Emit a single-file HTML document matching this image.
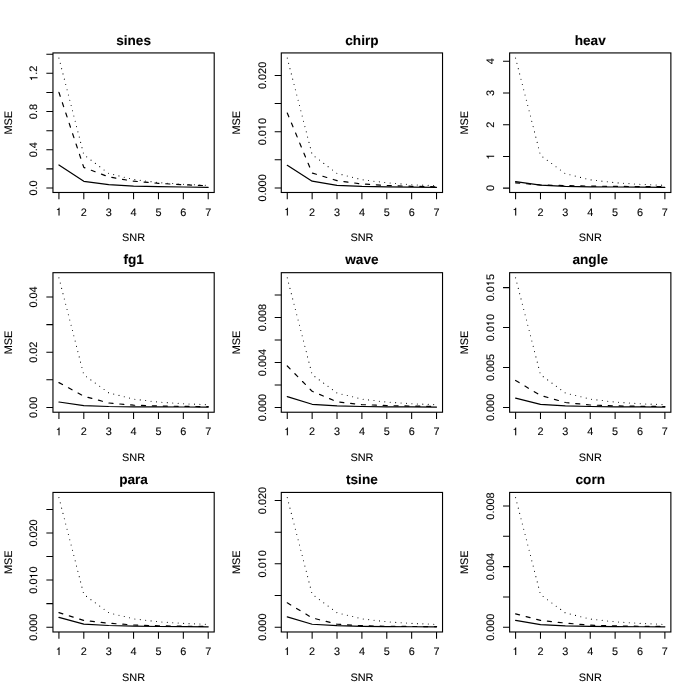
<!DOCTYPE html>
<html><head><meta charset="utf-8"><title>MSE vs SNR</title>
<style>
html,body{margin:0;padding:0;background:#fff;}
body{width:685px;height:685px;overflow:hidden;}
svg{display:block;will-change:transform;filter:grayscale(1);}
text{font-family:"Liberation Sans",sans-serif;fill:#000;text-rendering:geometricPrecision;stroke:#000;stroke-width:0.1px;}
.a{font-size:10.9px;}
.t{font-size:13.6px;font-weight:bold;}
.h{fill:none;stroke:none;}
.g{fill:#000;stroke:#000;stroke-width:0.006;}
.l{stroke:#000;fill:none;}
rect.l{stroke-width:1.12;}
</style></head><body>
<svg width="685" height="685" viewBox="0 0 685 685">
<rect width="685" height="685" fill="#fff"/>

<g>
<text class="t" x="133.58" y="44.73" text-anchor="middle">sines</text>
<rect class="l" x="52.96" y="52.93" width="161.24" height="139.55"/>
<g transform="translate(58.93 215.58)"><text class="a" x="-3.03"><tspan class="h">1</tspan></text><path class="g" transform="translate(-3.03 0) scale(10.9 -10.9)" d="M.092 .503V.567C.178 .567 .246 .61 .265 .709H.334V0H.24V.503Z"/></g>
<g transform="translate(83.81 215.58)"><text class="a" x="-3.03">2</text></g>
<g transform="translate(108.69 215.58)"><text class="a" x="-3.03">3</text></g>
<g transform="translate(133.57 215.58)"><text class="a" x="-3.03">4</text></g>
<g transform="translate(158.45 215.58)"><text class="a" x="-3.03">5</text></g>
<g transform="translate(183.33 215.58)"><text class="a" x="-3.03">6</text></g>
<g transform="translate(208.21 215.58)"><text class="a" x="-3.03">7</text></g>
<g transform="translate(37.46 188) rotate(-90)"><text class="a" x="-7.58">0.0</text></g>
<g transform="translate(37.46 149.78) rotate(-90)"><text class="a" x="-7.58">0.4</text></g>
<g transform="translate(37.46 111.56) rotate(-90)"><text class="a" x="-7.58">0.8</text></g>
<g transform="translate(37.46 73.34) rotate(-90)"><text class="a" x="-7.58"><tspan class="h">1</tspan>.2</text><path class="g" transform="translate(-7.58 0) scale(10.9 -10.9)" d="M.092 .503V.567C.178 .567 .246 .61 .265 .709H.334V0H.24V.503Z"/></g>
<path class="l" stroke-width="1.05" d="M58.93 192.48V199.28M83.81 192.48V199.28M108.69 192.48V199.28M133.57 192.48V199.28M158.45 192.48V199.28M183.33 192.48V199.28M208.21 192.48V199.28M52.96 188H46.36M52.96 168.89H46.36M52.96 149.78H46.36M52.96 130.67H46.36M52.96 111.56H46.36M52.96 92.45H46.36M52.96 73.34H46.36M52.96 54.23H46.36"/>
<text class="a" x="133.58" y="241.38" text-anchor="middle">SNR</text>
<text class="a" transform="translate(11.56 122.71) rotate(-90)" text-anchor="middle">MSE</text>
<polyline class="l" stroke-linejoin="round" stroke-linecap="round" stroke-dasharray="0 5.44" stroke-width="1.1" points="58.93,58.1 83.81,154.7 108.69,173.4 133.57,179.5 158.45,182.6 183.33,184.3 208.21,185.3"/>
<polyline class="l" stroke-linejoin="round" stroke-linecap="round" stroke-dasharray="4.08 6.8" stroke-width="1.2" points="58.93,92.4 83.81,167.4 108.69,176.9 133.57,181.2 158.45,183.3 183.33,184.8 208.21,185.7"/>
<polyline class="l" stroke-linejoin="round" stroke-linecap="round" stroke-width="1.2" points="58.93,165 83.81,181.3 108.69,184.7 133.57,186.2 158.45,186.7 183.33,187 208.21,187.3"/>
</g>
<g>
<text class="t" x="361.91" y="44.73" text-anchor="middle">chirp</text>
<rect class="l" x="281.29" y="52.93" width="161.24" height="139.55"/>
<g transform="translate(287.26 215.58)"><text class="a" x="-3.03"><tspan class="h">1</tspan></text><path class="g" transform="translate(-3.03 0) scale(10.9 -10.9)" d="M.092 .503V.567C.178 .567 .246 .61 .265 .709H.334V0H.24V.503Z"/></g>
<g transform="translate(312.14 215.58)"><text class="a" x="-3.03">2</text></g>
<g transform="translate(337.02 215.58)"><text class="a" x="-3.03">3</text></g>
<g transform="translate(361.9 215.58)"><text class="a" x="-3.03">4</text></g>
<g transform="translate(386.78 215.58)"><text class="a" x="-3.03">5</text></g>
<g transform="translate(411.66 215.58)"><text class="a" x="-3.03">6</text></g>
<g transform="translate(436.54 215.58)"><text class="a" x="-3.03">7</text></g>
<g transform="translate(265.79 187.9) rotate(-90)"><text class="a" x="-13.64">0.000</text></g>
<g transform="translate(265.79 131.66) rotate(-90)"><text class="a" x="-13.64">0.0<tspan class="h">1</tspan>0</text><path class="g" transform="translate(1.52 0) scale(10.9 -10.9)" d="M.092 .503V.567C.178 .567 .246 .61 .265 .709H.334V0H.24V.503Z"/></g>
<g transform="translate(265.79 75.42) rotate(-90)"><text class="a" x="-13.64">0.020</text></g>
<path class="l" stroke-width="1.05" d="M287.26 192.48V199.28M312.14 192.48V199.28M337.02 192.48V199.28M361.9 192.48V199.28M386.78 192.48V199.28M411.66 192.48V199.28M436.54 192.48V199.28M281.29 187.9H274.69M281.29 159.78H274.69M281.29 131.66H274.69M281.29 103.54H274.69M281.29 75.42H274.69"/>
<text class="a" x="361.91" y="241.38" text-anchor="middle">SNR</text>
<text class="a" transform="translate(239.89 122.71) rotate(-90)" text-anchor="middle">MSE</text>
<polyline class="l" stroke-linejoin="round" stroke-linecap="round" stroke-dasharray="0 5.44" stroke-width="1.1" points="287.26,58.1 312.14,154.6 337.02,173.4 361.9,179.7 386.78,182.8 411.66,184.7 436.54,185.7"/>
<polyline class="l" stroke-linejoin="round" stroke-linecap="round" stroke-dasharray="4.08 6.8" stroke-width="1.2" points="287.26,113 312.14,173 337.02,180.6 361.9,184 386.78,185.5 411.66,186.3 436.54,186.8"/>
<polyline class="l" stroke-linejoin="round" stroke-linecap="round" stroke-width="1.2" points="287.26,165.3 312.14,181.2 337.02,185.3 361.9,186.4 386.78,186.9 411.66,187.1 436.54,187.3"/>
</g>
<g>
<text class="t" x="590.25" y="44.73" text-anchor="middle">heav</text>
<rect class="l" x="509.63" y="52.93" width="161.24" height="139.55"/>
<g transform="translate(515.6 215.58)"><text class="a" x="-3.03"><tspan class="h">1</tspan></text><path class="g" transform="translate(-3.03 0) scale(10.9 -10.9)" d="M.092 .503V.567C.178 .567 .246 .61 .265 .709H.334V0H.24V.503Z"/></g>
<g transform="translate(540.48 215.58)"><text class="a" x="-3.03">2</text></g>
<g transform="translate(565.36 215.58)"><text class="a" x="-3.03">3</text></g>
<g transform="translate(590.24 215.58)"><text class="a" x="-3.03">4</text></g>
<g transform="translate(615.12 215.58)"><text class="a" x="-3.03">5</text></g>
<g transform="translate(640 215.58)"><text class="a" x="-3.03">6</text></g>
<g transform="translate(664.88 215.58)"><text class="a" x="-3.03">7</text></g>
<g transform="translate(494.13 188.1) rotate(-90)"><text class="a" x="-3.03">0</text></g>
<g transform="translate(494.13 156.4) rotate(-90)"><text class="a" x="-3.03"><tspan class="h">1</tspan></text><path class="g" transform="translate(-3.03 0) scale(10.9 -10.9)" d="M.092 .503V.567C.178 .567 .246 .61 .265 .709H.334V0H.24V.503Z"/></g>
<g transform="translate(494.13 124.7) rotate(-90)"><text class="a" x="-3.03">2</text></g>
<g transform="translate(494.13 93) rotate(-90)"><text class="a" x="-3.03">3</text></g>
<g transform="translate(494.13 61.3) rotate(-90)"><text class="a" x="-3.03">4</text></g>
<path class="l" stroke-width="1.05" d="M515.6 192.48V199.28M540.48 192.48V199.28M565.36 192.48V199.28M590.24 192.48V199.28M615.12 192.48V199.28M640 192.48V199.28M664.88 192.48V199.28M509.63 188.1H503.03M509.63 156.4H503.03M509.63 124.7H503.03M509.63 93H503.03M509.63 61.3H503.03"/>
<text class="a" x="590.25" y="241.38" text-anchor="middle">SNR</text>
<text class="a" transform="translate(468.23 122.71) rotate(-90)" text-anchor="middle">MSE</text>
<polyline class="l" stroke-linejoin="round" stroke-linecap="round" stroke-dasharray="0 5.44" stroke-width="1.1" points="515.6,58.1 540.48,155.3 565.36,173.7 590.24,179.8 615.12,182.7 640,184.3 664.88,185.3"/>
<polyline class="l" stroke-linejoin="round" stroke-linecap="round" stroke-dasharray="4.08 6.8" stroke-width="1.2" points="515.6,182.8 540.48,185 565.36,185.6 590.24,186.1 615.12,186.4 640,186.6 664.88,186.7"/>
<polyline class="l" stroke-linejoin="round" stroke-linecap="round" stroke-width="1.2" points="515.6,181.7 540.48,185.1 565.36,186.3 590.24,186.8 615.12,187 640,187.2 664.88,187.3"/>
</g>
<g>
<text class="t" x="133.58" y="264.48" text-anchor="middle">fg1</text>
<rect class="l" x="52.96" y="272.68" width="161.24" height="139.55"/>
<g transform="translate(58.93 435.33)"><text class="a" x="-3.03"><tspan class="h">1</tspan></text><path class="g" transform="translate(-3.03 0) scale(10.9 -10.9)" d="M.092 .503V.567C.178 .567 .246 .61 .265 .709H.334V0H.24V.503Z"/></g>
<g transform="translate(83.81 435.33)"><text class="a" x="-3.03">2</text></g>
<g transform="translate(108.69 435.33)"><text class="a" x="-3.03">3</text></g>
<g transform="translate(133.57 435.33)"><text class="a" x="-3.03">4</text></g>
<g transform="translate(158.45 435.33)"><text class="a" x="-3.03">5</text></g>
<g transform="translate(183.33 435.33)"><text class="a" x="-3.03">6</text></g>
<g transform="translate(208.21 435.33)"><text class="a" x="-3.03">7</text></g>
<g transform="translate(37.46 407.4) rotate(-90)"><text class="a" x="-10.61">0.00</text></g>
<g transform="translate(37.46 352.2) rotate(-90)"><text class="a" x="-10.61">0.02</text></g>
<g transform="translate(37.46 297) rotate(-90)"><text class="a" x="-10.61">0.04</text></g>
<path class="l" stroke-width="1.05" d="M58.93 412.23V419.03M83.81 412.23V419.03M108.69 412.23V419.03M133.57 412.23V419.03M158.45 412.23V419.03M183.33 412.23V419.03M208.21 412.23V419.03M52.96 407.4H46.36M52.96 379.8H46.36M52.96 352.2H46.36M52.96 324.6H46.36M52.96 297H46.36"/>
<text class="a" x="133.58" y="461.13" text-anchor="middle">SNR</text>
<text class="a" transform="translate(11.56 342.46) rotate(-90)" text-anchor="middle">MSE</text>
<polyline class="l" stroke-linejoin="round" stroke-linecap="round" stroke-dasharray="0 5.44" stroke-width="1.1" points="58.93,277.85 83.81,374.8 108.69,392.8 133.57,399.1 158.45,402.1 183.33,403.7 208.21,404.7"/>
<polyline class="l" stroke-linejoin="round" stroke-linecap="round" stroke-dasharray="4.08 6.8" stroke-width="1.2" points="58.93,382.6 83.81,396.2 108.69,403 133.57,405.2 158.45,406 183.33,406.4 208.21,406.6"/>
<polyline class="l" stroke-linejoin="round" stroke-linecap="round" stroke-width="1.2" points="58.93,402 83.81,405.6 108.69,406.5 133.57,406.8 158.45,406.9 183.33,407 208.21,407.05"/>
</g>
<g>
<text class="t" x="361.91" y="264.48" text-anchor="middle">wave</text>
<rect class="l" x="281.29" y="272.68" width="161.24" height="139.55"/>
<g transform="translate(287.26 435.33)"><text class="a" x="-3.03"><tspan class="h">1</tspan></text><path class="g" transform="translate(-3.03 0) scale(10.9 -10.9)" d="M.092 .503V.567C.178 .567 .246 .61 .265 .709H.334V0H.24V.503Z"/></g>
<g transform="translate(312.14 435.33)"><text class="a" x="-3.03">2</text></g>
<g transform="translate(337.02 435.33)"><text class="a" x="-3.03">3</text></g>
<g transform="translate(361.9 435.33)"><text class="a" x="-3.03">4</text></g>
<g transform="translate(386.78 435.33)"><text class="a" x="-3.03">5</text></g>
<g transform="translate(411.66 435.33)"><text class="a" x="-3.03">6</text></g>
<g transform="translate(436.54 435.33)"><text class="a" x="-3.03">7</text></g>
<g transform="translate(265.79 407.5) rotate(-90)"><text class="a" x="-13.64">0.000</text></g>
<g transform="translate(265.79 362.5) rotate(-90)"><text class="a" x="-13.64">0.004</text></g>
<g transform="translate(265.79 317.5) rotate(-90)"><text class="a" x="-13.64">0.008</text></g>
<path class="l" stroke-width="1.05" d="M287.26 412.23V419.03M312.14 412.23V419.03M337.02 412.23V419.03M361.9 412.23V419.03M386.78 412.23V419.03M411.66 412.23V419.03M436.54 412.23V419.03M281.29 407.5H274.69M281.29 385H274.69M281.29 362.5H274.69M281.29 340H274.69M281.29 317.5H274.69M281.29 295H274.69"/>
<text class="a" x="361.91" y="461.13" text-anchor="middle">SNR</text>
<text class="a" transform="translate(239.89 342.46) rotate(-90)" text-anchor="middle">MSE</text>
<polyline class="l" stroke-linejoin="round" stroke-linecap="round" stroke-dasharray="0 5.44" stroke-width="1.1" points="287.26,277.85 312.14,374.6 337.02,393 361.9,399.1 386.78,402.1 411.66,403.7 436.54,404.7"/>
<polyline class="l" stroke-linejoin="round" stroke-linecap="round" stroke-dasharray="4.08 6.8" stroke-width="1.2" points="287.26,366 312.14,391.3 337.02,401.8 361.9,404.6 386.78,405.6 411.66,406.1 436.54,406.4"/>
<polyline class="l" stroke-linejoin="round" stroke-linecap="round" stroke-width="1.2" points="287.26,396.6 312.14,404.3 337.02,405.9 361.9,406.5 386.78,406.8 411.66,406.95 436.54,407.05"/>
</g>
<g>
<text class="t" x="590.25" y="264.48" text-anchor="middle">angle</text>
<rect class="l" x="509.63" y="272.68" width="161.24" height="139.55"/>
<g transform="translate(515.6 435.33)"><text class="a" x="-3.03"><tspan class="h">1</tspan></text><path class="g" transform="translate(-3.03 0) scale(10.9 -10.9)" d="M.092 .503V.567C.178 .567 .246 .61 .265 .709H.334V0H.24V.503Z"/></g>
<g transform="translate(540.48 435.33)"><text class="a" x="-3.03">2</text></g>
<g transform="translate(565.36 435.33)"><text class="a" x="-3.03">3</text></g>
<g transform="translate(590.24 435.33)"><text class="a" x="-3.03">4</text></g>
<g transform="translate(615.12 435.33)"><text class="a" x="-3.03">5</text></g>
<g transform="translate(640 435.33)"><text class="a" x="-3.03">6</text></g>
<g transform="translate(664.88 435.33)"><text class="a" x="-3.03">7</text></g>
<g transform="translate(494.13 407.4) rotate(-90)"><text class="a" x="-13.64">0.000</text></g>
<g transform="translate(494.13 367.47) rotate(-90)"><text class="a" x="-13.64">0.005</text></g>
<g transform="translate(494.13 327.54) rotate(-90)"><text class="a" x="-13.64">0.0<tspan class="h">1</tspan>0</text><path class="g" transform="translate(1.52 0) scale(10.9 -10.9)" d="M.092 .503V.567C.178 .567 .246 .61 .265 .709H.334V0H.24V.503Z"/></g>
<g transform="translate(494.13 287.61) rotate(-90)"><text class="a" x="-13.64">0.0<tspan class="h">1</tspan>5</text><path class="g" transform="translate(1.52 0) scale(10.9 -10.9)" d="M.092 .503V.567C.178 .567 .246 .61 .265 .709H.334V0H.24V.503Z"/></g>
<path class="l" stroke-width="1.05" d="M515.6 412.23V419.03M540.48 412.23V419.03M565.36 412.23V419.03M590.24 412.23V419.03M615.12 412.23V419.03M640 412.23V419.03M664.88 412.23V419.03M509.63 407.4H503.03M509.63 367.47H503.03M509.63 327.54H503.03M509.63 287.61H503.03"/>
<text class="a" x="590.25" y="461.13" text-anchor="middle">SNR</text>
<text class="a" transform="translate(468.23 342.46) rotate(-90)" text-anchor="middle">MSE</text>
<polyline class="l" stroke-linejoin="round" stroke-linecap="round" stroke-dasharray="0 5.44" stroke-width="1.1" points="515.6,277.85 540.48,374.6 565.36,393 590.24,399.1 615.12,402.1 640,403.7 664.88,404.7"/>
<polyline class="l" stroke-linejoin="round" stroke-linecap="round" stroke-dasharray="4.08 6.8" stroke-width="1.2" points="515.6,380.5 540.48,395.4 565.36,402.5 590.24,405 615.12,405.9 640,406.3 664.88,406.5"/>
<polyline class="l" stroke-linejoin="round" stroke-linecap="round" stroke-width="1.2" points="515.6,398.2 540.48,404.3 565.36,405.8 590.24,406.5 615.12,406.8 640,406.95 664.88,407.05"/>
</g>
<g>
<text class="t" x="133.58" y="484.23" text-anchor="middle">para</text>
<rect class="l" x="52.96" y="492.43" width="161.24" height="139.55"/>
<g transform="translate(58.93 655.08)"><text class="a" x="-3.03"><tspan class="h">1</tspan></text><path class="g" transform="translate(-3.03 0) scale(10.9 -10.9)" d="M.092 .503V.567C.178 .567 .246 .61 .265 .709H.334V0H.24V.503Z"/></g>
<g transform="translate(83.81 655.08)"><text class="a" x="-3.03">2</text></g>
<g transform="translate(108.69 655.08)"><text class="a" x="-3.03">3</text></g>
<g transform="translate(133.57 655.08)"><text class="a" x="-3.03">4</text></g>
<g transform="translate(158.45 655.08)"><text class="a" x="-3.03">5</text></g>
<g transform="translate(183.33 655.08)"><text class="a" x="-3.03">6</text></g>
<g transform="translate(208.21 655.08)"><text class="a" x="-3.03">7</text></g>
<g transform="translate(37.46 627.2) rotate(-90)"><text class="a" x="-13.64">0.000</text></g>
<g transform="translate(37.46 580.08) rotate(-90)"><text class="a" x="-13.64">0.0<tspan class="h">1</tspan>0</text><path class="g" transform="translate(1.52 0) scale(10.9 -10.9)" d="M.092 .503V.567C.178 .567 .246 .61 .265 .709H.334V0H.24V.503Z"/></g>
<g transform="translate(37.46 532.96) rotate(-90)"><text class="a" x="-13.64">0.020</text></g>
<path class="l" stroke-width="1.05" d="M58.93 631.98V638.78M83.81 631.98V638.78M108.69 631.98V638.78M133.57 631.98V638.78M158.45 631.98V638.78M183.33 631.98V638.78M208.21 631.98V638.78M52.96 627.2H46.36M52.96 603.64H46.36M52.96 580.08H46.36M52.96 556.52H46.36M52.96 532.96H46.36M52.96 509.4H46.36"/>
<text class="a" x="133.58" y="680.88" text-anchor="middle">SNR</text>
<text class="a" transform="translate(11.56 562.21) rotate(-90)" text-anchor="middle">MSE</text>
<polyline class="l" stroke-linejoin="round" stroke-linecap="round" stroke-dasharray="0 5.44" stroke-width="1.1" points="58.93,497.6 83.81,594.4 108.69,612.7 133.57,618.8 158.45,621.8 183.33,623.4 208.21,624.4"/>
<polyline class="l" stroke-linejoin="round" stroke-linecap="round" stroke-dasharray="4.08 6.8" stroke-width="1.2" points="58.93,612.6 83.81,620.5 108.69,623.2 133.57,625 158.45,625.8 183.33,626.2 208.21,626.4"/>
<polyline class="l" stroke-linejoin="round" stroke-linecap="round" stroke-width="1.2" points="58.93,617.4 83.81,624.1 108.69,625.5 133.57,626.2 158.45,626.5 183.33,626.7 208.21,626.8"/>
</g>
<g>
<text class="t" x="361.91" y="484.23" text-anchor="middle">tsine</text>
<rect class="l" x="281.29" y="492.43" width="161.24" height="139.55"/>
<g transform="translate(287.26 655.08)"><text class="a" x="-3.03"><tspan class="h">1</tspan></text><path class="g" transform="translate(-3.03 0) scale(10.9 -10.9)" d="M.092 .503V.567C.178 .567 .246 .61 .265 .709H.334V0H.24V.503Z"/></g>
<g transform="translate(312.14 655.08)"><text class="a" x="-3.03">2</text></g>
<g transform="translate(337.02 655.08)"><text class="a" x="-3.03">3</text></g>
<g transform="translate(361.9 655.08)"><text class="a" x="-3.03">4</text></g>
<g transform="translate(386.78 655.08)"><text class="a" x="-3.03">5</text></g>
<g transform="translate(411.66 655.08)"><text class="a" x="-3.03">6</text></g>
<g transform="translate(436.54 655.08)"><text class="a" x="-3.03">7</text></g>
<g transform="translate(265.79 627.15) rotate(-90)"><text class="a" x="-13.64">0.000</text></g>
<g transform="translate(265.79 563.83) rotate(-90)"><text class="a" x="-13.64">0.0<tspan class="h">1</tspan>0</text><path class="g" transform="translate(1.52 0) scale(10.9 -10.9)" d="M.092 .503V.567C.178 .567 .246 .61 .265 .709H.334V0H.24V.503Z"/></g>
<g transform="translate(265.79 500.51) rotate(-90)"><text class="a" x="-13.64">0.020</text></g>
<path class="l" stroke-width="1.05" d="M287.26 631.98V638.78M312.14 631.98V638.78M337.02 631.98V638.78M361.9 631.98V638.78M386.78 631.98V638.78M411.66 631.98V638.78M436.54 631.98V638.78M281.29 627.15H274.69M281.29 595.49H274.69M281.29 563.83H274.69M281.29 532.17H274.69M281.29 500.51H274.69"/>
<text class="a" x="361.91" y="680.88" text-anchor="middle">SNR</text>
<text class="a" transform="translate(239.89 562.21) rotate(-90)" text-anchor="middle">MSE</text>
<polyline class="l" stroke-linejoin="round" stroke-linecap="round" stroke-dasharray="0 5.44" stroke-width="1.1" points="287.26,497.6 312.14,594.2 337.02,612.7 361.9,618.8 386.78,621.8 411.66,623.4 436.54,624.4"/>
<polyline class="l" stroke-linejoin="round" stroke-linecap="round" stroke-dasharray="4.08 6.8" stroke-width="1.2" points="287.26,602.8 312.14,617.9 337.02,624.2 361.9,625.7 386.78,626.3 411.66,626.5 436.54,626.6"/>
<polyline class="l" stroke-linejoin="round" stroke-linecap="round" stroke-width="1.2" points="287.26,616.9 312.14,624.25 337.02,625.7 361.9,626.4 386.78,626.6 411.66,626.75 436.54,626.8"/>
</g>
<g>
<text class="t" x="590.25" y="484.23" text-anchor="middle">corn</text>
<rect class="l" x="509.63" y="492.43" width="161.24" height="139.55"/>
<g transform="translate(515.6 655.08)"><text class="a" x="-3.03"><tspan class="h">1</tspan></text><path class="g" transform="translate(-3.03 0) scale(10.9 -10.9)" d="M.092 .503V.567C.178 .567 .246 .61 .265 .709H.334V0H.24V.503Z"/></g>
<g transform="translate(540.48 655.08)"><text class="a" x="-3.03">2</text></g>
<g transform="translate(565.36 655.08)"><text class="a" x="-3.03">3</text></g>
<g transform="translate(590.24 655.08)"><text class="a" x="-3.03">4</text></g>
<g transform="translate(615.12 655.08)"><text class="a" x="-3.03">5</text></g>
<g transform="translate(640 655.08)"><text class="a" x="-3.03">6</text></g>
<g transform="translate(664.88 655.08)"><text class="a" x="-3.03">7</text></g>
<g transform="translate(494.13 627.2) rotate(-90)"><text class="a" x="-13.64">0.000</text></g>
<g transform="translate(494.13 566.6) rotate(-90)"><text class="a" x="-13.64">0.004</text></g>
<g transform="translate(494.13 506) rotate(-90)"><text class="a" x="-13.64">0.008</text></g>
<path class="l" stroke-width="1.05" d="M515.6 631.98V638.78M540.48 631.98V638.78M565.36 631.98V638.78M590.24 631.98V638.78M615.12 631.98V638.78M640 631.98V638.78M664.88 631.98V638.78M509.63 627.2H503.03M509.63 596.9H503.03M509.63 566.6H503.03M509.63 536.3H503.03M509.63 506H503.03"/>
<text class="a" x="590.25" y="680.88" text-anchor="middle">SNR</text>
<text class="a" transform="translate(468.23 562.21) rotate(-90)" text-anchor="middle">MSE</text>
<polyline class="l" stroke-linejoin="round" stroke-linecap="round" stroke-dasharray="0 5.44" stroke-width="1.1" points="515.6,497.6 540.48,594.5 565.36,612.9 590.24,619 615.12,621.8 640,623.4 664.88,624.4"/>
<polyline class="l" stroke-linejoin="round" stroke-linecap="round" stroke-dasharray="4.08 6.8" stroke-width="1.2" points="515.6,613.8 540.48,620.3 565.36,623.1 590.24,625.2 615.12,625.9 640,626.3 664.88,626.5"/>
<polyline class="l" stroke-linejoin="round" stroke-linecap="round" stroke-width="1.2" points="515.6,620.3 540.48,624.6 565.36,625.8 590.24,626.4 615.12,626.6 640,626.75 664.88,626.8"/>
</g>
</svg></body></html>
